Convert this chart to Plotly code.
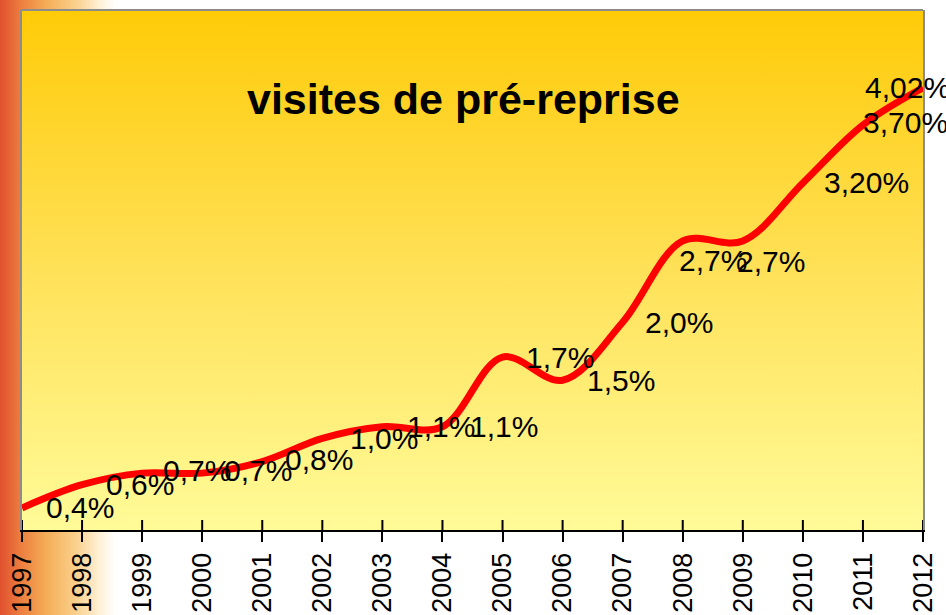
import base64
import plotly.graph_objects as go

# ---- data ----
years = [1997, 1998, 1999, 2000, 2001, 2002, 2003, 2004, 2005, 2006, 2007, 2008, 2009, 2010, 2011, 2012]
values = [0.4, 0.6, 0.7, 0.7, 0.8, 1.0, 1.1, 1.1, 1.7, 1.5, 2.0, 2.7, 2.7, 3.2, 3.7, 4.02]
labels = ["0,4%", "0,6%", "0,7%", "0,7%", "0,8%", "1,0%", "1,1%", "1,1%", "1,7%", "1,5%",
          "2,0%", "2,7%", "2,7%", "3,20%", "3,70%", "4,02%"]
tick_labels = [str(y) for y in years]
title_text = "visites de pré-reprise"

# ---- label placement (pixel offsets from each point) ----
label_dx = [22, 22, 19, 20, 21, 26, 23, 26, 21, 22, 20, -6, -8, 19, -2, -60]
label_dy = [0, 0, 3, 3, 2, 0, 0, 0, 0, 0, 0, -20, -21, 0, 2, 0]

W, H = 946, 615
L, R, T, B = 22, 23, 10, 85
PW, PH = W - L - R, H - T - B
FONT = "Liberation Sans, Arial, sans-serif"


def svg_uri(svg):
    return "data:image/svg+xml;base64," + base64.b64encode(svg.encode()).decode()


page_svg = (
    '<svg xmlns="http://www.w3.org/2000/svg" viewBox="0 0 100 100" preserveAspectRatio="none">'
    '<defs><linearGradient id="g" x1="0" y1="0" x2="1" y2="0">'
    '<stop offset="0" stop-color="#E0502E"/>'
    '<stop offset="0.022" stop-color="#EC7E40"/>'
    '<stop offset="0.048" stop-color="#F4AC55"/>'
    '<stop offset="0.08" stop-color="#FAD08C"/>'
    '<stop offset="0.106" stop-color="#FFF1D8"/>'
    '<stop offset="0.122" stop-color="#FFFFFF"/>'
    '<stop offset="1" stop-color="#FFFFFF"/>'
    '</linearGradient></defs>'
    '<rect x="0" y="0" width="100" height="100" fill="url(#g)"/></svg>'
)
plot_svg = (
    '<svg xmlns="http://www.w3.org/2000/svg" viewBox="0 0 100 100" preserveAspectRatio="none">'
    '<defs><linearGradient id="g" x1="0" y1="0" x2="0" y2="1">'
    '<stop offset="0" stop-color="#FFCB08"/>'
    '<stop offset="0.5" stop-color="#FFE158"/>'
    '<stop offset="1" stop-color="#FFFB98"/>'
    '</linearGradient></defs>'
    '<rect x="0" y="0" width="100" height="100" fill="url(#g)"/></svg>'
)

fig = go.Figure()
fig.add_trace(go.Scatter(
    x=years, y=values, mode="lines",
    line=dict(color="#FF0000", width=7, shape="spline", smoothing=1.0),
    hoverinfo="skip", showlegend=False,
))

annotations = []
for x, v, t, dx, dy in zip(years, values, labels, label_dx, label_dy):
    annotations.append(dict(
        x=x, y=v, xref="x", yref="y", text=t, showarrow=False,
        xanchor="left", yanchor="middle", xshift=dx, yshift=dy,
        font=dict(family=FONT, size=30, color="#000000"),
    ))
annotations.append(dict(
    x=(463 - L) / PW, y=0.829, xref="paper", yref="paper", text="<b>" + title_text + "</b>",
    showarrow=False, xanchor="center", yanchor="middle",
    font=dict(family=FONT, size=43, color="#000000"),
))

shapes = [
    # top border
    dict(type="line", xref="paper", yref="paper", x0=0, x1=1, y0=1, y1=1,
         line=dict(color="#8C8C8C", width=2)),
]
for x in years:
    shapes.append(dict(type="line", xref="x", yref="paper", x0=x, x1=x,
                       ysizemode="pixel", yanchor=0, y0=0, y1=10,
                       line=dict(color="#000000", width=2)))

fig.update_layout(
    width=W, height=H,
    margin=dict(l=L, r=R, t=T, b=B, pad=0, autoexpand=False),
    paper_bgcolor="rgba(0,0,0,0)",
    plot_bgcolor="rgba(0,0,0,0)",
    showlegend=False,
    annotations=annotations,
    shapes=shapes,
    images=[
        dict(source=svg_uri(page_svg), xref="paper", yref="paper",
             x=-L / PW, y=1 + T / PH, sizex=W / PW, sizey=H / PH,
             xanchor="left", yanchor="top", sizing="stretch", layer="below"),
        dict(source=svg_uri(plot_svg), xref="paper", yref="paper",
             x=0, y=1, sizex=1, sizey=1,
             xanchor="left", yanchor="top", sizing="stretch", layer="below"),
    ],
    xaxis=dict(
        range=[1997, 2012], tickvals=years, ticktext=tick_labels, tickangle=-90,
        ticks="outside", ticklen=10, tickwidth=2, tickcolor="#000000",
        showline=True, linecolor="#000000", linewidth=2,
        showgrid=False, zeroline=False, automargin=False,
        tickfont=dict(family=FONT, size=27, color="#000000"),
        fixedrange=True,
    ),
    yaxis=dict(
        range=[0.21, 4.69], showticklabels=False, ticks="",
        showline=True, linecolor="#8C8C8C", linewidth=2, mirror=True,
        showgrid=False, zeroline=False, fixedrange=True, automargin=False,
    ),
)

fig.write_html(
    "out.html",
    config={"displayModeBar": False},
    post_script="document.body.style.margin='0';document.body.style.overflow='hidden';",
)
